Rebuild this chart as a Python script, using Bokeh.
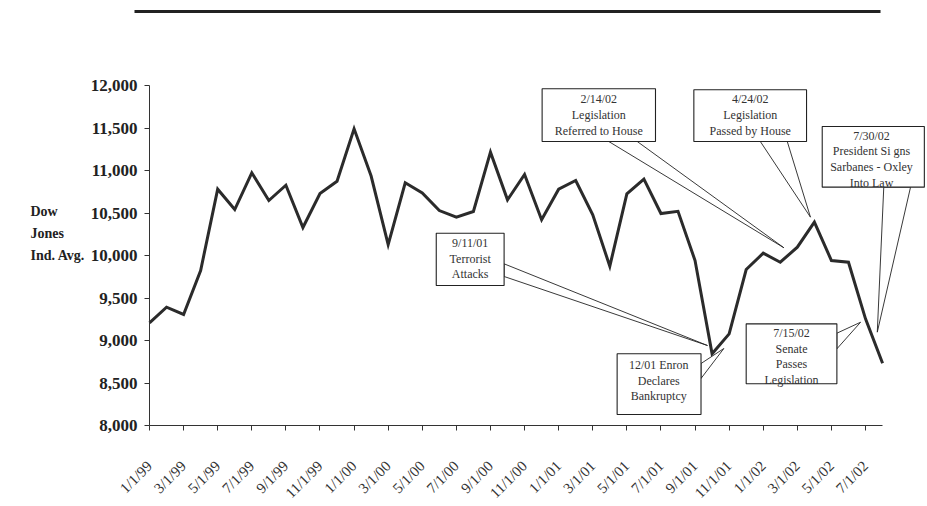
import math
from bokeh.plotting import figure
from bokeh.models import FixedTicker, NumeralTickFormatter, Range1d, ColumnDataSource
from bokeh.core.properties import value
from bokeh.embed import file_html
from bokeh.resources import INLINE

# ---- data (month-end Dow Jones Industrial Average) ----
month_index = list(range(44))
dow = [9208, 9392, 9306, 9824, 10780, 10541, 10973, 10647, 10827, 10329,
       10729, 10874, 11490, 10935, 10129, 10855, 10737, 10529, 10451, 10518,
       11216, 10655, 10953, 10420, 10780, 10882, 10478, 9874, 10725, 10898,
       10494, 10520, 9941, 8843, 9078, 9835, 10027, 9921, 10098, 10392,
       9941, 9921, 9255, 8733]

tick_positions = list(range(0, 43, 2))
tick_labels = ["1/1/99", "3/1/99", "5/1/99", "7/1/99", "9/1/99", "11/1/99",
               "1/1/00", "3/1/00", "5/1/00", "7/1/00", "9/1/00", "11/1/00",
               "1/1/01", "3/1/01", "5/1/01", "7/1/01", "9/1/01", "11/1/01",
               "1/1/02", "3/1/02", "5/1/02", "7/1/02"]
y_ticks = [8000, 8500, 9000, 9500, 10000, 10500, 11000, 11500, 12000]

y_title_lines = ["Dow", "Jones", "Ind. Avg."]

# ---- callouts: text, box (x0, x1, ybottom, ytop), wedge base points, tip, text centre ----
callout_text = ["9/11/01\nTerrorist\nAttacks",
                "12/01 Enron\nDeclares\nBankruptcy",
                "2/14/02\nLegislation\nReferred to House",
                "4/24/02\nLegislation\nPassed by House",
                "7/30/02\nPresident Si gns\nSarbanes - Oxley\nInto Law",
                "7/15/02\nSenate\nPasses\nLegislation"]
box_x0 = [16.82, 27.43, 23.03, 31.93, 39.46, 35.00]
box_x1 = [20.80, 32.35, 29.68, 38.54, 45.45, 40.32]
box_y0 = [9647, 8129, 11341, 11341, 10804, 8491]
box_y1 = [10262, 8844, 11961, 11950, 11518, 9196]
wedge_xa = [20.80, 32.35, 26.94, 35.83, 43.07, 40.32]
wedge_ya = [9902, 8729, 11341, 11341, 10804, 9086]
wedge_xb = [20.80, 32.35, 28.61, 37.41, 44.64, 40.32]
wedge_yb = [9753, 8553, 11341, 11341, 10804, 8902]
tip_x = [32.73, 33.69, 37.21, 38.77, 42.69, 41.71]
tip_y = [8941, 8906, 10091, 10451, 9098, 9215]
text_x = [18.81, 29.87, 26.35, 35.24, 42.35, 37.66]
text_y = [9961, 8529, 11655, 11651, 11132, 8812]

FONT = "Liberation Serif"
INK = "#2b2b2b"

p = figure(width=925, height=504, output_backend="svg", toolbar_location=None,
           x_range=Range1d(-8.740, 45.518), y_range=Range1d(7070.6, 13000),
           min_border=0)
p.grid.visible = False
p.outline_line_color = None
p.background_fill_color = "white"
p.border_fill_color = "white"

# axes (placed at the data origin of the chart area)
xa = p.xaxis[0]
xa.fixed_location = 8000
xa.ticker = FixedTicker(ticks=tick_positions)
xa.major_label_overrides = {pos: lab for pos, lab in zip(tick_positions, tick_labels)}
xa.major_label_orientation = math.pi / 4
xa.major_label_text_font = FONT
xa.major_label_text_font_size = "15px"
xa.major_label_text_color = "#333333"
xa.major_label_standoff = 33
xa.bounds = (0, 43)
xa.axis_line_color = "#333333"
xa.major_tick_line_color = "#333333"
xa.major_tick_out = 5
xa.major_tick_in = 0
xa.minor_tick_line_color = None

ya = p.yaxis[0]
ya.fixed_location = 0
ya.ticker = FixedTicker(ticks=y_ticks)
ya.formatter = NumeralTickFormatter(format="0,0")
ya.bounds = (8000, 12000)
ya.major_label_text_font = FONT
ya.major_label_text_font_size = "17px"
ya.major_label_text_font_style = "bold"
ya.major_label_text_color = "#222222"
ya.major_label_standoff = 7
ya.axis_line_color = "#333333"
ya.major_tick_line_color = "#333333"
ya.major_tick_out = 5
ya.major_tick_in = 0
ya.minor_tick_line_color = None

# y axis title
p.text(x=[-6.98] * 3, y=[10518, 10259, 10000], text=y_title_lines,
       text_align="left", text_baseline="middle", text_font=value(FONT),
       text_font_size="14px", text_font_style="bold", text_color="#222222")

# top rule
p.segment(x0=[-0.88], y0=[12871], x1=[42.88], y1=[12871], line_width=3,
          line_color="#222222")

# data line
p.line(month_index, dow, line_width=3, line_color=INK, line_join="miter")

# callout wedges
wedge_src = ColumnDataSource(dict(
    xs=[[a, b, t] for a, b, t in zip(wedge_xa, wedge_xb, tip_x)],
    ys=[[a, b, t] for a, b, t in zip(wedge_ya, wedge_yb, tip_y)]))
p.patches("xs", "ys", source=wedge_src, fill_color="white", line_color="#222222",
          line_width=0.9)

# callout boxes
p.quad(left=box_x0, right=box_x1, bottom=box_y0, top=box_y1, fill_color="white",
       line_color="#222222", line_width=1.1)

p.text(x=text_x, y=text_y, text=callout_text, text_align="center",
       text_baseline="middle", text_font=value(FONT), text_font_size="12px",
       text_line_height=1.12, text_color="#333333")

open("out.html", "w").write(file_html(p, INLINE))
